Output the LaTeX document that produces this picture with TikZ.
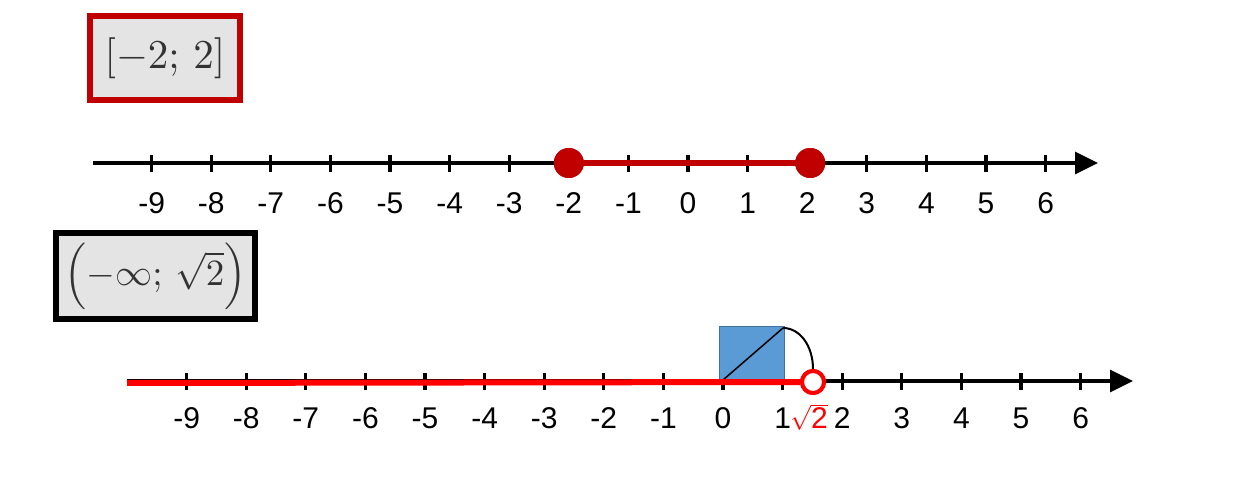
\documentclass[tikz,border=0pt]{standalone}
\usepackage{fontspec}
\usepackage{graphicx}
\setmainfont{Liberation Sans}
\usetikzlibrary{arrows.meta}
\definecolor{dred}{HTML}{C00000}
\definecolor{bred}{HTML}{FF0000}
\definecolor{sqblue}{HTML}{5B9BD5}
\definecolor{sqedge}{HTML}{41719C}
\definecolor{photo}{HTML}{E4E4E4}
\definecolor{ink}{HTML}{333333}
\begin{document}
\begin{tikzpicture}[x=1pt,y=-1pt,
  axis/.style={line width=3.2pt,-{Triangle[length=23pt,width=22pt]}},
  tickmark/.style={line width=3.2pt},
  lbl/.style={font=\fontsize{30}{30}\selectfont, inner sep=0pt},
  boxlbl/.style={line width=6pt, fill=photo, inner sep=0pt, text=ink},
  dot/.style={circle, fill=dred, minimum size=30pt, inner sep=0pt},
  odot/.style={circle, draw=bred, fill=white, line width=4pt, minimum size=22pt, inner sep=0pt}]
\useasboundingbox (0,0) rectangle (1256,486);

% ---------- top ----------
\node[boxlbl, draw=dred, minimum width=150pt, minimum height=84pt] (box1) at (165,58)
  {\scalebox{4.1}{$[-2;\,2]$}};
\coordinate (a1) at (93,163);
\coordinate (b1) at (1098,163);
\draw[axis] (a1) -- (b1);
\foreach \i in {-9,...,6} {
  \coordinate (tt\i) at ({688+59.6*\i},155);
  \draw[tickmark] (tt\i) -- ++(0,17);
  \node[lbl] (lt\i) at ({688+59.6*\i},203) {\i};
}
\node[dot] (d1) at ({688-2*59.6},163) {};
\node[dot] (d2) at ({688+2*59.6+3},163) {};
\draw[dred, line width=6pt] (d1.center) -- (d2.center);
\node[dot] at (d1) {};
\node[dot] at (d2) {};

% ---------- bottom ----------
\node[boxlbl, draw=black, minimum width=199pt, minimum height=86pt] (box2) at (155.5,276)
  {\scalebox{3.7}{$\Bigl(-\infty;\,\sqrt{2}\Bigr)$}};
\coordinate (a2) at (127,381);
\coordinate (b2) at (1133,381);
\draw[axis] (a2) -- (b2);
\foreach \i in {-9,...,6} {
  \coordinate (tb\i) at ({723+59.6*\i},373);
  \draw[tickmark] (tb\i) -- ++(0,17);
}
\foreach \i in {-9,...,0,2,3,4,5,6} {
  \node[lbl] (lb\i) at ({723+59.6*\i},418) {\i};
}
\node[lbl] (lb1) at ({723+59.6},418) {1};
\node[draw=sqedge, fill=sqblue, line width=1pt, minimum width=65pt, minimum height=54pt, inner sep=0pt] (sq) at (751.5,354) {};
\coordinate (o) at (723,380);
\coordinate (c1) at (783,328);
\coordinate (e1) at (813,369);
\draw[line width=1.5pt] (o) -- (c1);
\draw[line width=2pt] (c1) .. controls (800,328) and (813,346) .. (e1);
\coordinate (r0) at (127,383);
\node[odot] (oc) at (813,382) {};
\draw[bred, line width=6pt] (r0) -- (oc.west);
\node[odot] at (oc) {};
\node[lbl, text=bred] (sqrt2) at (809,417) {$\sqrt{\mbox{2}}$};
\end{tikzpicture}
\end{document}
